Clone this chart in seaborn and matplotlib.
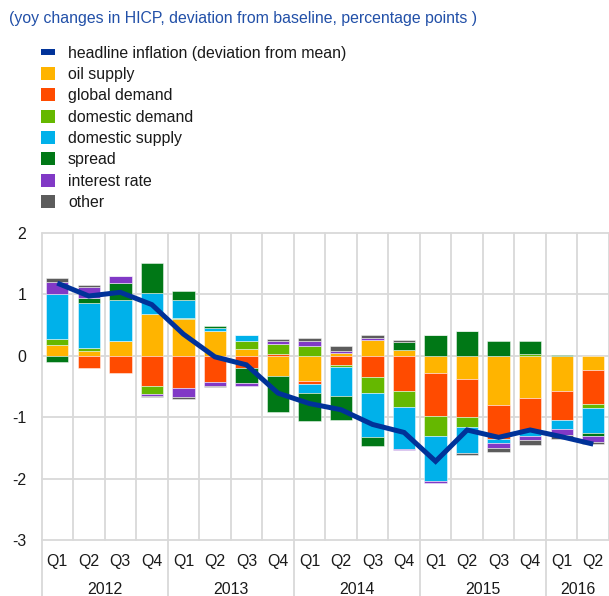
import numpy as np
import pandas as pd
import matplotlib
matplotlib.use("Agg")
import matplotlib.pyplot as plt
import seaborn as sns
from matplotlib.patches import Patch
from matplotlib.lines import Line2D

# ---------------- data ----------------
quarters = ["Q1", "Q2", "Q3", "Q4"] * 4 + ["Q1", "Q2"]
years = ["2012", "2013", "2014", "2015", "2016"]
year_spans = [4, 4, 4, 4, 2]

series_names = ["oil supply", "global demand", "domestic demand", "domestic supply",
                "spread", "interest rate", "other"]

oil_supply      = [0.17, 0.07, 0.23, 0.68, 0.59, 0.40, 0.10, -0.33, -0.42, 0.05, 0.26, 0.09,
                   -0.28, -0.38, -0.80, -0.69, -0.57, -0.23]
global_demand   = [0.00, -0.20, -0.28, -0.50, -0.53, -0.43, -0.20, 0.02, -0.04, -0.15, -0.34, -0.57,
                   -0.70, -0.62, -0.55, -0.53, -0.48, -0.55]
domestic_demand = [0.10, 0.05, 0.00, -0.12, 0.03, 0.00, 0.14, 0.17, 0.16, -0.04, -0.27, -0.27,
                   -0.325, -0.16, 0.00, 0.03, 0.00, -0.07]
domestic_supply = [0.73, 0.73, 0.68, 0.34, 0.28, 0.05, 0.09, 0.00, -0.15, -0.47, -0.72, -0.68,
                   -0.74, -0.42, -0.065, -0.08, -0.15, -0.41]
spread          = [-0.10, 0.09, 0.27, 0.48, 0.15, 0.04, -0.25, -0.58, -0.46, -0.38, -0.14, 0.125,
                   0.33, 0.40, 0.245, 0.21, 0.015, -0.04]
interest_rate   = [0.20, 0.17, 0.11, -0.03, -0.14, -0.065, -0.04, 0.04, 0.07, 0.03, 0.02, -0.015,
                   -0.03, 0.00, -0.08, -0.08, -0.09, -0.11]
other           = [0.07, 0.04, 0.00, -0.02, -0.03, -0.02, 0.01, 0.04, 0.05, 0.07, 0.06, 0.04,
                   0.01, -0.04, -0.08, -0.07, -0.07, -0.03]
headline        = [1.18, 0.97, 1.03, 0.83, 0.35, -0.02, -0.15, -0.61, -0.78, -0.88, -1.12, -1.25,
                   -1.72, -1.21, -1.33, -1.21, -1.32, -1.44]

colors = ["#FFB400", "#FF4B00", "#65B800", "#00B1EA", "#007816", "#8139C6", "#5C5C5C"]
line_color = "#003299"

components = [oil_supply, global_demand, domestic_demand, domestic_supply,
              spread, interest_rate, other]

# ---------------- figure ----------------
sns.set_style("white")
plt.rcParams["font.family"] = ["Liberation Sans", "DejaVu Sans"]
plt.rcParams["axes.unicode_minus"] = False

FS = 11.4
W, H = 609, 596
fig = plt.figure(figsize=(W / 100, H / 100), dpi=100)
left_px, top_px, bottom_px = 41.5, 232.7, 540.0
ax = fig.add_axes([left_px / W, 1 - bottom_px / H, 1 - left_px / W, (bottom_px - top_px) / H])

n = len(quarters)
idx = list(range(n))
pos_base = np.zeros(n)
neg_base = np.zeros(n)
for vals, col, name in zip(components, colors, series_names):
    v = np.array(vals, dtype=float)
    bottom = np.where(v >= 0, pos_base, neg_base)
    df = pd.DataFrame({"x": idx, "y": v})
    sns.barplot(data=df, x="x", y="y", bottom=bottom, color=col, saturation=1,
                width=0.71, errorbar=None, ax=ax, edgecolor=(1, 1, 1, 0.55),
                linewidth=0.6, zorder=3)
    pos_base = pos_base + np.where(v > 0, v, 0)
    neg_base = neg_base + np.where(v < 0, v, 0)

line_df = pd.DataFrame({"x": idx, "y": headline})
sns.lineplot(data=line_df, x="x", y="y", ax=ax, color=line_color, linewidth=3.6,
             zorder=6, solid_capstyle="butt", solid_joinstyle="miter")

grid_c = "#d9d9d9"
ax.set_xlim(-0.5, n - 0.5)
ax.set_ylim(-3, 2)
ax.set_yticks([2, 1, 0, -1, -2, -3])
ax.set_yticklabels(["2", "1", "0", "-1", "-2", "-3"])
ax.set_xticks(idx)
ax.set_xticklabels(quarters)
ax.tick_params(axis="both", which="both", length=0, labelsize=FS, colors="#1a1a1a")
ax.tick_params(axis="x", pad=10)
ax.tick_params(axis="y", pad=11)
ax.grid(False)
for yv in [2, 1, 0, -1, -2, -3]:
    ax.axhline(yv, color=grid_c, lw=1.3, zorder=1, clip_on=False)
for xv in np.arange(-0.5, n, 1.0):
    ax.axvline(xv, color=grid_c, lw=1.3, zorder=1, clip_on=False)
ax.set_xlabel("")
ax.set_ylabel("")
for s in ax.spines.values():
    s.set_visible(False)

# year boundaries extending below the axis
trans = ax.get_xaxis_transform()
ext = -(H - bottom_px) / (bottom_px - top_px)
bounds = np.cumsum([0] + year_spans) - 0.5
for b in bounds[:-1]:
    ax.plot([b, b], [0, ext], color=grid_c, lw=1.3, transform=trans, clip_on=False)
year_y = -(589 - bottom_px) / (bottom_px - top_px)
for i, yr in enumerate(years):
    c = (bounds[i] + bounds[i + 1]) / 2
    ax.text(c, year_y, yr, transform=trans, ha="center", va="center",
            fontsize=FS, color="#1a1a1a")

# title
fig.text(9 / W, 1 - 18.5 / H,
         "(yoy changes in HICP, deviation from baseline, percentage points )",
         ha="left", va="center", fontsize=FS, color="#2250a8")

# legend
handles = [Line2D([0], [0], color=line_color, lw=4.3, solid_capstyle="butt")]
handles += [Patch(facecolor=c, edgecolor="none") for c in colors]
labels = ["headline inflation (deviation from mean)"] + series_names
leg = fig.legend(handles, labels, loc="upper left",
                 bbox_to_anchor=(41 / W, 1 - 45.5 / H), bbox_transform=fig.transFigure,
                 frameon=False, fontsize=FS, handlelength=0.9, handleheight=0.9,
                 handletextpad=0.8, labelspacing=0.4, borderpad=0, borderaxespad=0)
for t in leg.get_texts():
    t.set_color("#1a1a1a")

fig.savefig("out.png", dpi=100)
